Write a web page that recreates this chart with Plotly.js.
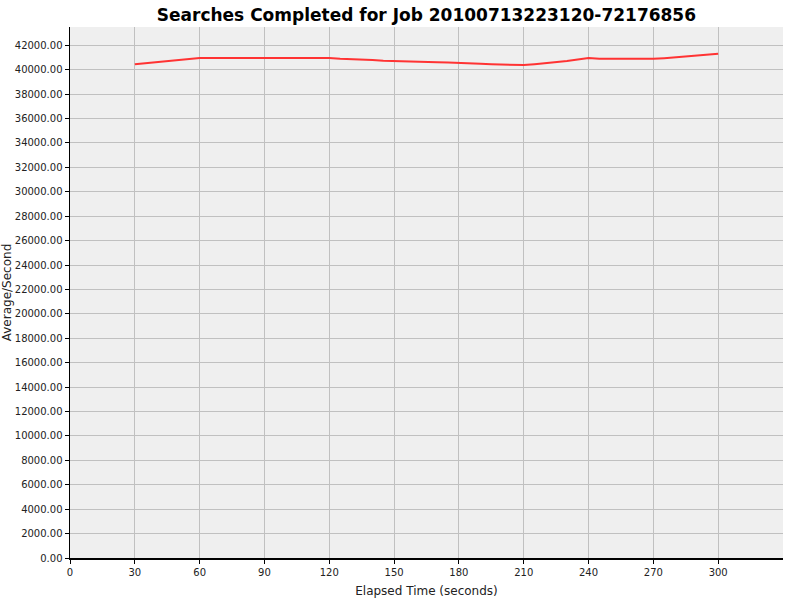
<!DOCTYPE html>
<html>
<head>
<meta charset="utf-8">
<script src="https://cdn.plot.ly/plotly-3.0.1.min.js"></script>
<style>html,body{margin:0;padding:0;background:#fff;}#chart{width:800px;height:600px;}</style>
</head>
<body>
<div id="chart"></div>
<script>
var elapsedSeconds = [30,35,40,45,50,55,60,65,70,75,80,85,90,95,100,105,110,115,120,125,130,135,140,145,150,155,160,165,170,175,180,185,190,195,200,205,210,215,220,225,230,235,240,245,250,255,260,265,270,275,280,285,290,295,300];
var averagePerSecond = [40440,40520,40600,40680,40760,40880,40970,40970,40970,40970,40970,40970,40970,40970,40970,40970,40970,40970,40970,40900,40880,40820,40800,40730,40720,40680,40640,40630,40620,40600,40580,40530,40480,40450,40410,40390,40380,40450,40520,40600,40720,40830,40960,40900,40890,40890,40890,40890,40890,40950,41030,41110,41180,41240,41300];
var xTicks = [0,30,60,90,120,150,180,210,240,270,300];
var yTicks = [];
for (var v = 0; v <= 42000; v += 2000) yTicks.push(v);

var trace = {
  x: elapsedSeconds,
  y: averagePerSecond,
  type: 'scatter',
  mode: 'lines',
  line: {color: '#ff3333', width: 2},
  hoverinfo: 'none'
};

var tickFont = {family: 'DejaVu Sans, sans-serif', size: 10, color: '#222'};
var layout = {
  width: 800, height: 600,
  margin: {l: 70, r: 17, t: 27, b: 42},
  paper_bgcolor: '#ffffff',
  plot_bgcolor: '#efefef',
  showlegend: false,
  title: {text: '<b>Searches Completed for Job 20100713223120-72176856</b>',
    font: {family: 'DejaVu Sans, sans-serif', size: 17, color: '#000'},
    x: 0.533, xanchor: 'center', y: 0.975, yanchor: 'middle'},
  xaxis: {
    range: [0, 330], tickvals: xTicks, ticktext: xTicks.map(String),
    showgrid: true, gridcolor: '#c0c0c0', gridwidth: 1,
    showline: true, linecolor: '#000', linewidth: 1.5,
    ticks: 'outside', ticklen: 4, tickcolor: '#000', tickfont: tickFont,
    zeroline: false,
    title: {text: 'Elapsed Time (seconds)', font: {family: 'DejaVu Sans, sans-serif', size: 12, color: '#222'}, standoff: 10}
  },
  yaxis: {
    range: [0, 43500], tickvals: yTicks, ticktext: yTicks.map(function(t){return t.toFixed(2);}),
    showgrid: true, gridcolor: '#c0c0c0', gridwidth: 1,
    showline: true, linecolor: '#000', linewidth: 1.5,
    ticks: 'outside', ticklen: 4, tickcolor: '#000', tickfont: tickFont,
    zeroline: false,
    title: {text: 'Average/Second', font: {family: 'DejaVu Sans, sans-serif', size: 12, color: '#222'}, standoff: 3}
  }
};

Plotly.newPlot('chart', [trace], layout, {displayModeBar: false, staticPlot: true});
</script>
</body>
</html>
